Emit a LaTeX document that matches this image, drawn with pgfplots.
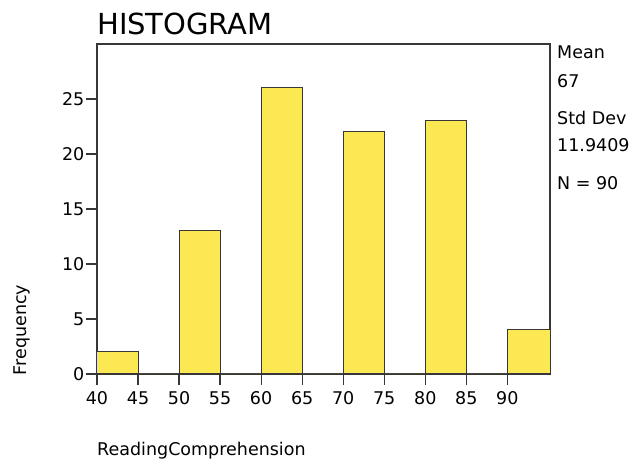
\documentclass[border=0pt]{standalone}
\usepackage{pgfplots}
\pgfplotsset{compat=1.18}
\usepackage{fontspec}
\setmainfont{DejaVu Sans}
\definecolor{baryellow}{RGB}{252,232,82}
\definecolor{linegray}{RGB}{55,55,55}
\begin{document}
\begin{tikzpicture}
\useasboundingbox (-97pt,-86pt) rectangle (535pt,374pt);
\begin{axis}[
  at={(0,0)}, anchor=origin,
  scale only axis, width=453pt, height=330pt,
  xmin=40, xmax=95.2, ymin=0, ymax=30,
  axis line style={linegray, line width=1.2pt},
  xtick={40,45,...,90}, ytick={0,5,...,25},
  xtick pos=bottom, ytick pos=left,
  tick align=outside, major tick length=11pt,
  tick style={linegray, line width=1.2pt},
  ticklabel style={font=\fontsize{17.5}{20}\selectfont, inner sep=1.5pt},
  xticklabel style={yshift=-5pt},
  /pgf/number format/assume math mode=true,
  clip=false,
]
\addplot[ybar interval, fill=baryellow, draw=linegray, line width=1pt]
  coordinates {(40,2)(45,0)(50,13)(55,0)(60,26)(65,0)(70,22)(75,0)(80,23)(85,0)(90,4)(95.2,4)};
\end{axis}
\node[anchor=west, font=\fontsize{29}{32}\selectfont, inner sep=0pt] at (0pt,350pt) {HISTOGRAM};
\node[anchor=west, font=\fontsize{17.5}{20}\selectfont, inner sep=0pt] at (0pt,-77pt) {ReadingComprehension};
\node[rotate=90, font=\fontsize{17.5}{20}\selectfont] at (-75pt,44pt) {Frequency};
\begin{scope}[every node/.style={anchor=west, inner sep=0pt, font=\fontsize{17.5}{20}\selectfont}]
\node at (460pt,322pt) {Mean};
\node at (460pt,293pt) {67};
\node at (460pt,256pt) {Std Dev};
\node at (460pt,229pt) {11.9409};
\node at (460pt,191pt) {N = 90};
\end{scope}
\end{tikzpicture}
\end{document}
